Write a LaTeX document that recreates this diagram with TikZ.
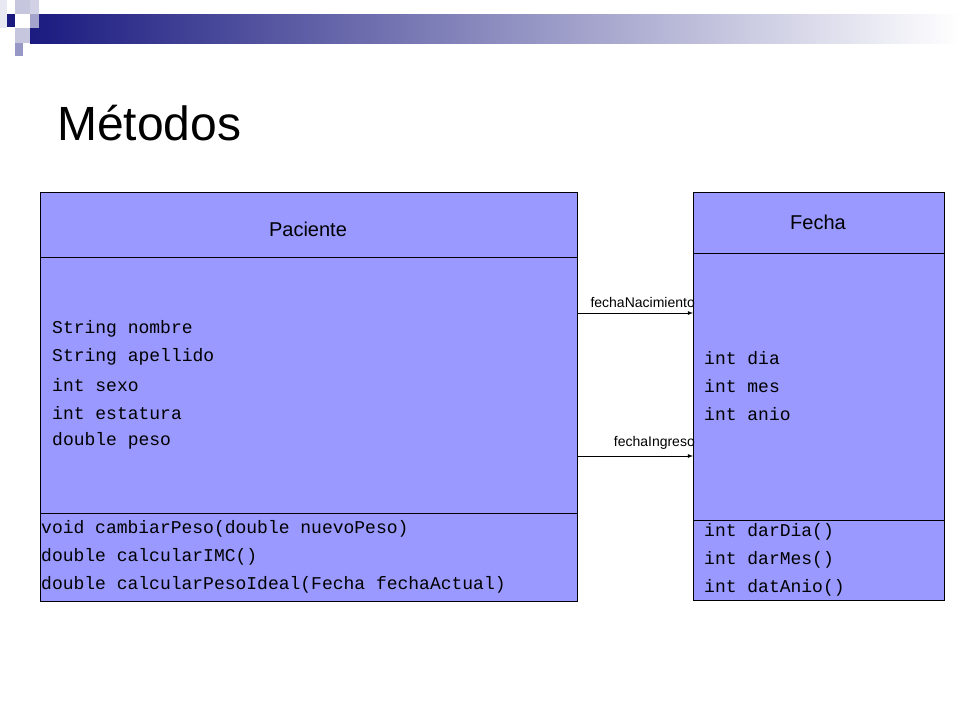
\documentclass[tikz,border=0pt]{standalone}
\usepackage{fontspec}
\setmainfont{Liberation Sans}
\setmonofont{Liberation Mono}
\begin{document}
\begin{tikzpicture}[x=1pt,y=-1pt,
  cls/.style={draw=black,fill=umlfill,line width=0.8pt},
  mono/.style={anchor=west,inner sep=0,font=\fontsize{18}{20}\ttfamily},
  lbl/.style={anchor=south east,inner sep=1pt,font=\fontsize{14}{16}\selectfont},
  assoc/.style={-latex,line width=0.8pt}]
\definecolor{umlfill}{HTML}{9999FF}
\definecolor{navy}{HTML}{1A1A80}
\useasboundingbox (0,0) rectangle (960,720);
% decoration
\shade[left color=navy,right color=white] (30,14) rectangle (960,43);
\fill[navy] (7,14) rectangle (15,27);
\fill[navy!25] (15,0) rectangle (30,14);
\fill[navy!20] (30,0) rectangle (39,14);
\fill[navy!40] (30,14) rectangle (39,28);
\fill[navy!25] (15,28) rectangle (30,43);
\fill[navy!45] (15,43) rectangle (23,56);
\fill[navy!10] (0,0) rectangle (7,28);
\node[anchor=west,inner sep=0,font=\fontsize{48}{52}\selectfont] (title) at (57,123) {Métodos};
% Paciente
\draw[cls] (40,192) rectangle (577,601);
\draw[line width=0.8pt] (40,257) -- (577,257);
\draw[line width=0.8pt] (40,513) -- (577,513);
\node[font=\fontsize{20}{22}\selectfont] (pac) at (308,229) {Paciente};
\node[mono] (a1) at (52,329) {String nombre};
\node[mono] (a2) at (52,357) {String apellido};
\node[mono] (a3) at (52,385) {int sexo};
\node[mono] (a4) at (52,413) {int estatura};
\node[mono] (a5) at (52,441) {double peso};
\node[mono] (m1) at (41,529) {void cambiarPeso(double nuevoPeso)};
\node[mono] (m2) at (41,557) {double calcularIMC()};
\node[mono] (m3) at (41,585) {double calcularPesoIdeal(Fecha fechaActual)};
% Fecha
\draw[cls] (693,192) rectangle (944,600);
\draw[line width=0.8pt] (693,253) -- (944,253);
\draw[line width=0.8pt] (693,520) -- (944,520);
\node[font=\fontsize{20}{22}\selectfont] (fec) at (818,222) {Fecha};
\node[mono] (f1) at (704,358) {int dia};
\node[mono] (f2) at (704,386) {int mes};
\node[mono] (f3) at (704,414) {int anio};
\node[mono] (g1) at (704,532) {int darDia()};
\node[mono] (g2) at (704,560) {int darMes()};
\node[mono] (g3) at (704,588) {int datAnio()};
% associations
\coordinate (s1) at (577,313); \coordinate (e1) at (693,313);
\coordinate (s2) at (577,456); \coordinate (e2) at (693,456);
\draw[assoc] (s1) -- (e1);
\draw[assoc] (s2) -- (e2);
\node[lbl] (l1) at (696,309) {fechaNacimiento};
\node[lbl] (l2) at (696,451) {fechaIngreso};
\end{tikzpicture}
\end{document}
